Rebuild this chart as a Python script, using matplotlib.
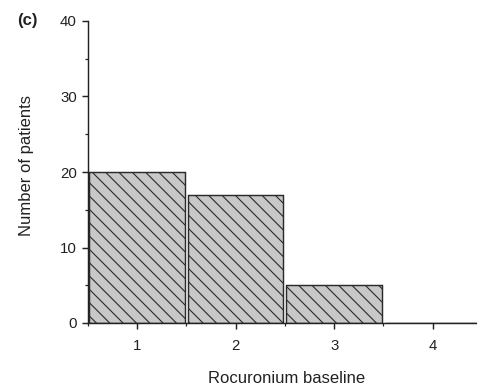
import matplotlib
matplotlib.use('Agg')
from matplotlib import pyplot as plt
from matplotlib.ticker import MultipleLocator

categories = [1, 2, 3, 4]
patients = [20, 17, 5, 0]
y_ticks = [0, 10, 20, 30, 40]

plt.rcParams['font.family'] = ['Liberation Sans', 'DejaVu Sans']
plt.rcParams['hatch.color'] = '#2a2a2a'
plt.rcParams['hatch.linewidth'] = 1.0

fig = plt.figure(figsize=(477 / 80, 388 / 80), dpi=80)
ax = fig.add_axes([88 / 477, 65 / 388, 389 / 477, 302 / 388])

ax.bar(categories, patients, width=0.97, color='#c8c8c8',
       edgecolor='#2a2a2a', linewidth=1.3, hatch='\\\\')

ax.set_xlim(0.5, 4.45)
ax.set_ylim(0, 40)
ax.set_xticks(categories)
ax.set_yticks(y_ticks)
ax.xaxis.set_minor_locator(MultipleLocator(1, offset=0.5))
ax.yaxis.set_minor_locator(MultipleLocator(5))

for side in ['top', 'right']:
    ax.spines[side].set_visible(False)
for side in ['left', 'bottom']:
    ax.spines[side].set_linewidth(1.3)
    ax.spines[side].set_color('#222222')

ax.tick_params(axis='both', which='major', direction='out', length=5,
               width=1.3, labelsize=13.5, colors='#222222', pad=5)
ax.tick_params(axis='x', which='major', pad=9)
ax.tick_params(axis='both', which='minor', direction='out', length=3,
               width=1.1, colors='#222222')

ax.set_xlabel('Rocuronium baseline', fontsize=15, color='#222222')
ax.set_ylabel('Number of patients', fontsize=15, color='#222222')
ax.xaxis.set_label_coords(0.51, -0.16)
ax.yaxis.set_label_coords(-0.14, 0.52)
fig.text(17 / 477, 1 - 21 / 388, '(c)', fontsize=15, fontweight='bold',
         color='#222222', va='center', ha='left')

fig.savefig('out.png', dpi=80)
